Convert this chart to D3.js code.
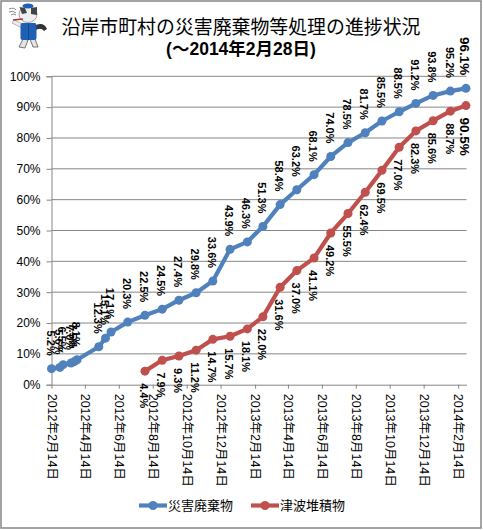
<!DOCTYPE html>
<html>
<head>
<meta charset="utf-8">
<script src="https://cdn.jsdelivr.net/npm/d3@7"></script>
<style>
body { margin: 0; background: #fff; }
text { font-family: "Liberation Sans", "Noto Sans CJK JP", sans-serif; fill: #000; }
.tick line, .domain { stroke: #868686; }
</style>
</head>
<body>
<div id="chart"></div>
<script>
var width = 483;
var height = 530;

// values
const wasteDates = ['2012-02-14','2012-02-29','2012-03-06','2012-03-20','2012-03-26','2012-03-31','2012-05-09','2012-05-21','2012-05-31',
  '2012-06-30','2012-07-31','2012-08-31','2012-09-30','2012-10-31','2012-11-30','2012-12-31','2013-01-31','2013-02-28','2013-03-31',
  '2013-04-30','2013-05-31','2013-06-30','2013-07-31','2013-08-31','2013-09-30','2013-10-31','2013-11-30','2013-12-31','2014-01-31','2014-02-28'];
const wasteValues = [5.2,5.6,6.5,7.0,7.5,8.1,12.3,15.1,17.1,20.3,22.5,24.5,27.4,29.8,33.6,43.9,46.3,51.3,58.4,63.2,68.1,74.0,78.5,81.7,85.5,88.5,91.2,93.8,95.2,96.1];
const tsunamiDates = ['2012-07-31','2012-08-31','2012-09-30','2012-10-31','2012-11-30','2012-12-31','2013-01-31','2013-02-28','2013-03-31',
  '2013-04-30','2013-05-31','2013-06-30','2013-07-31','2013-08-31','2013-09-30','2013-10-31','2013-11-30','2013-12-31','2014-01-31','2014-02-28'];
const tsunamiValues = [4.4,7.9,9.3,11.2,14.7,15.7,18.1,22.0,31.6,37.0,41.1,49.2,55.5,62.4,69.5,77.0,82.3,85.6,88.7,90.5];
const tickDates = ['2012-02-14','2012-04-14','2012-06-14','2012-08-14','2012-10-14','2012-12-14','2013-02-14','2013-04-14','2013-06-14','2013-08-14','2013-10-14','2013-12-14','2014-02-14'];
const tickLabels = ['2012年2月14日','2012年4月14日','2012年6月14日','2012年8月14日','2012年10月14日','2012年12月14日','2013年2月14日','2013年4月14日','2013年6月14日','2013年8月14日','2013年10月14日','2013年12月14日','2014年2月14日'];
const yTicks = [0,10,20,30,40,50,60,70,80,90,100];
const seriesNames = ['災害廃棄物','津波堆積物'];
const seriesColors = ['#4F81BD','#C0504D'];

const parse = d3.timeParse('%Y-%m-%d');

var svg = d3.select('#chart').append('svg')
  .attr('width', width)
  .attr('height', height)
  .style('display', 'block');

svg.append('rect')
  .attr('x', 1).attr('y', 1)
  .attr('width', width - 3).attr('height', height - 3)
  .attr('fill', '#fff').attr('stroke', '#868686').attr('stroke-width', 1.5);

const x = d3.scaleTime().domain([parse('2012-02-14'), parse('2014-03-01')]).range([51.5, 466.5]);
const y = d3.scaleLinear().domain([0, 100]).range([384.7, 76.3]);

// gridlines + axes
svg.append('g').selectAll('line').data(yTicks.slice(1)).enter().append('line')
  .attr('x1', x.range()[0]).attr('x2', x.range()[1])
  .attr('y1', d => y(d)).attr('y2', d => y(d))
  .attr('stroke', '#868686').attr('stroke-width', 1);

const yAxis = d3.axisLeft(y).tickValues(yTicks).tickFormat(d => d + '%').tickSize(5).tickPadding(6);
svg.append('g').attr('transform', `translate(${x.range()[0]},0)`).call(yAxis)
  .call(g => g.selectAll('text').style('font-size', '12px'));

const xAxis = d3.axisBottom(x).tickValues(tickDates.map(parse)).tickFormat((d, i) => tickLabels[i]).tickSize(4).tickSizeOuter(0);
svg.append('g').attr('transform', `translate(0,${y(0)})`).call(xAxis)
  .call(g => g.selectAll('text')
    .attr('transform', 'rotate(90)')
    .attr('x', 9).attr('y', 0).attr('dy', '.35em')
    .attr('text-anchor', 'start')
    .style('font-size', '12.5px'));
svg.selectAll('.domain').attr('stroke', '#868686').attr('fill', 'none');

// lines + markers
const line = d3.line().x(d => x(d.date)).y(d => y(d.value));
const waste = wasteDates.map((d, i) => ({date: parse(d), value: wasteValues[i]}));
const tsunami = tsunamiDates.map((d, i) => ({date: parse(d), value: tsunamiValues[i]}));

[waste, tsunami].forEach((s, k) => {
  svg.append('path').datum(s)
    .attr('d', line).attr('fill', 'none')
    .attr('stroke', seriesColors[k]).attr('stroke-width', 4.2).attr('stroke-linejoin', 'round');
  svg.append('g').selectAll('circle').data(s).enter().append('circle')
    .attr('cx', d => x(d.date)).attr('cy', d => y(d.value)).attr('r', 4.5)
    .attr('fill', seriesColors[k]);
});

// rotated value labels: waste above the line, tsunami below it
function labels(s, above) {
  svg.append('g').selectAll('text').data(s).enter().append('text')
    .attr('transform', d => `translate(${x(d.date) - 1},${y(d.value) + (above ? -13 : 12)}) rotate(90)`)
    .attr('text-anchor', above ? 'end' : 'start')
    .attr('dy', '.35em')
    .style('font-weight', 'bold')
    .style('font-size', (d, i) => i === s.length - 1 ? '13.5px' : '11px')
    .text(d => d.value.toFixed(1) + '%');
}
labels(waste, true);
labels(tsunami, false);

// title
svg.append('text').attr('x', 241).attr('y', 34).attr('text-anchor', 'middle')
  .style('font-family', '"Noto Sans CJK JP"').style('font-size', '18.9px')
  .text('沿岸市町村の災害廃棄物等処理の進捗状況');
svg.append('text').attr('x', 241).attr('y', 55).attr('text-anchor', 'middle')
  .style('font-weight', 'bold').style('font-size', '17.5px')
  .text('(～2014年2月28日)');

// legend
const legendX = d3.scaleOrdinal().domain(seriesNames).range([139, 251]);
const legend = svg.append('g').selectAll('g').data(seriesNames).enter().append('g')
  .attr('transform', d => `translate(${legendX(d)},505.5)`);
legend.append('line').attr('x1', 0).attr('x2', 28)
  .attr('stroke', (d, i) => seriesColors[i]).attr('stroke-width', 4.2);
legend.append('circle').attr('cx', 14).attr('r', 4.5).attr('fill', (d, i) => seriesColors[i]);
legend.append('text').attr('x', 29).attr('dy', '.35em').style('font-size', '13px').text(d => d);

// mascot, top left
const cat = svg.append('g');
cat.append('path').attr('d', 'M36 25 Q44 22 47 29 L44 31 Q41 27 36 30 Z').attr('fill', '#333');
cat.append('path').attr('d', 'M23 39 L19 47 L25 48 L28 40 Z M30 39 L33 47 L38 47 L35 39 Z').attr('fill', '#e4e4e4').attr('stroke', '#555').attr('stroke-width', .8);
cat.append('path').attr('d', 'M14 20 L23 24 L22 28 L12 23 Z').attr('fill', '#eee').attr('stroke', '#888').attr('stroke-width', .6);
cat.append('rect').attr('x', 20.5).attr('y', 23).attr('width', 16).attr('height', 17).attr('rx', 2).attr('fill', '#1F5FB4');
cat.append('path').attr('d', 'M28.5 24 L28.5 40').attr('stroke', '#123f80').attr('stroke-width', .8);
cat.append('ellipse').attr('cx', 28).attr('cy', 14.5).attr('rx', 9).attr('ry', 8).attr('fill', '#eee').attr('stroke', '#666').attr('stroke-width', .6);
cat.append('path').attr('d', 'M19.5 7 L22 14 L27 13 L25 8 Z M31 8 L37 7 L37 15 L31 14 Z').attr('fill', '#444');
cat.append('ellipse').attr('cx', 28).attr('cy', 6).attr('rx', 5.5).attr('ry', 2.5).attr('fill', '#1F5FB4');
cat.append('path').attr('d', 'M23 19 L13 20').attr('stroke', '#a33').attr('stroke-width', 1.5);
cat.append('path').attr('d', 'M9 9 Q14 7 16 10 M9 12 Q13 10 16 13 M11 15 Q14 13 16 15').attr('fill', 'none').attr('stroke', '#888').attr('stroke-width', 1);
</script>
</body>
</html>
